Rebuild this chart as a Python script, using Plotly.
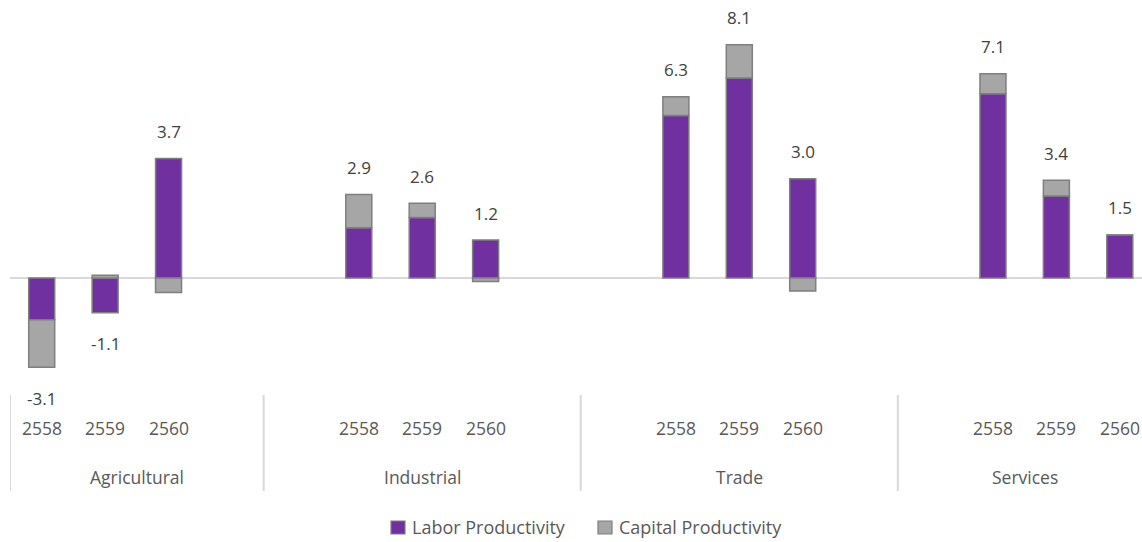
import plotly.graph_objects as go

sectors = ["Agricultural", "Industrial", "Trade", "Services"]
years = ["2558", "2559", "2560"]
series_names = ["Labor Productivity", "Capital Productivity"]
labor = [-1.45, -1.2, 4.15,   1.75, 2.1, 1.32,   5.65, 6.95, 3.45,   6.4, 2.85, 1.5]
capital = [-1.65, 0.1, -0.5,   1.15, 0.5, -0.12,   0.65, 1.15, -0.45,   0.7, 0.55, 0.0]
totals = [-3.1, -1.1, 3.7,   2.9, 2.6, 1.2,   6.3, 8.1, 3.0,   7.1, 3.4, 1.5]

# slot layout: blank slots separate the sector groups (as in the original Excel chart)
lead_blank = [0, 1, 1, 1]
trail_blank = [1, 1, 1, 0]

xs, ticktext, group_bounds = [], [], []
pos = 0
for gi, s in enumerate(sectors):
    start = pos - 0.5
    pos += lead_blank[gi]
    for y in years:
        xs.append(pos)
        ticktext.append(y)
        pos += 1
    pos += trail_blank[gi]
    group_bounds.append((start, pos - 0.5))

PURPLE = "#7030a0"
GRAY = "#a6a6a6"
EDGE = "#7f7f7f"
TXT = "#595959"
FONT = "Open Sans"

fig = go.Figure()
fig.add_trace(go.Bar(x=xs, y=labor, name=series_names[0], width=0.41, showlegend=False,
                     marker=dict(color=PURPLE, line=dict(color=EDGE, width=1.5))))
fig.add_trace(go.Bar(x=xs, y=capital, name=series_names[1], width=0.41, showlegend=False,
                     marker=dict(color=GRAY, line=dict(color=EDGE, width=1.5))))

annotations = []
for x, l, c, t in zip(xs, labor, capital, totals):
    pos_top = max(l, 0) + max(c, 0)
    neg_bot = min(l, 0) + min(c, 0)
    if t >= 0:
        annotations.append(dict(x=x, y=pos_top, xref="x", yref="y", text=f"{t:.1f}",
                                showarrow=False, yshift=27, yanchor="middle",
                                font=dict(family=FONT, size=17, color="#404040")))
    else:
        annotations.append(dict(x=x, y=neg_bot, xref="x", yref="y", text=f"{t:.1f}",
                                showarrow=False, yshift=-31, yanchor="middle",
                                font=dict(family=FONT, size=17, color="#404040")))

LEFT = 10
WIDTH = 1142 - LEFT
TOP = 10
BOT = 395
H = float(BOT - TOP)
def py(pix):
    return (BOT - pix) / H
def px(pix):
    return (pix - LEFT) / WIDTH

shapes = []
for gi, (a, b) in enumerate(group_bounds):
    annotations.append(dict(x=(a + b) / 2, y=py(477), xref="x", yref="paper", text=sectors[gi],
                            showarrow=False, yanchor="middle",
                            font=dict(family=FONT, size=17.5, color=TXT)))
    shapes.append(dict(type="line", xref="x", yref="paper", x0=a, x1=a,
                       y0=py(395), y1=py(491),
                       line=dict(color="#d9d9d9", width=2)))

for x, t in zip(xs, ticktext):
    annotations.append(dict(x=x, y=py(428), xref="x", yref="paper", text=t,
                            showarrow=False, yanchor="middle",
                            font=dict(family=FONT, size=17.5, color=TXT)))

# legend (drawn manually so it does not push the plot margins)
leg_colors = [PURPLE, GRAY]
leg_x = [391, 598]
for name, col, lx in zip(series_names, leg_colors, leg_x):
    shapes.append(dict(type="rect", xref="paper", yref="paper",
                       x0=px(lx), x1=px(lx + 14), y0=py(521), y1=py(534),
                       fillcolor=col, line=dict(color=EDGE, width=1.2)))
    annotations.append(dict(x=px(lx + 19), y=py(527), xref="paper", yref="paper", text=name,
                            showarrow=False, xanchor="left", yanchor="middle",
                            font=dict(family=FONT, size=18, color=TXT)))

fig.update_layout(
    barmode="relative",
    width=1142, height=542,
    margin=dict(l=LEFT, r=0, t=TOP, b=542 - BOT),
    plot_bgcolor="white", paper_bgcolor="white",
    xaxis=dict(range=[-0.5, 17.35], showticklabels=False, showgrid=False, zeroline=False,
               showline=False, fixedrange=True),
    yaxis=dict(range=[-4.06, 9.31], showticklabels=False, showgrid=False, zeroline=True,
               zerolinecolor="#d9d9d9", zerolinewidth=2, showline=False),
    annotations=annotations,
    shapes=shapes,
    showlegend=False,
)

fig.write_html("out.html", config={"displayModeBar": False},
               post_script="document.body.style.margin='0';document.body.style.overflow='hidden';")
